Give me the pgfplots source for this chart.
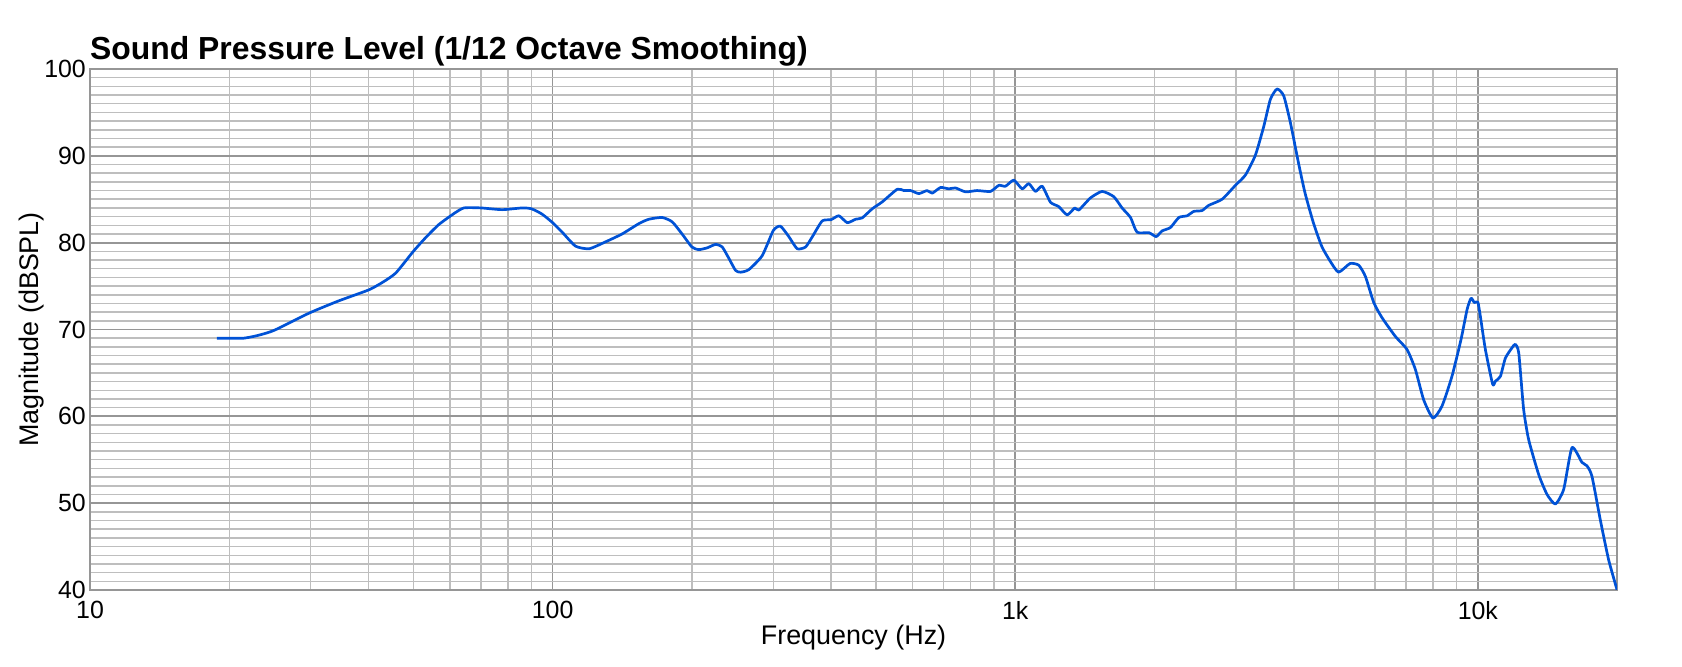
\documentclass[border=0pt]{standalone}
\usepackage{pgfplots}
\pgfplotsset{compat=1.18}
\usepackage{fontspec}
\setmainfont{Liberation Sans}
\definecolor{curve}{RGB}{0,82,214}
\definecolor{majgrid}{RGB}{150,150,150}
\definecolor{mingrid}{RGB}{190,190,190}
\begin{document}
\begin{tikzpicture}[x=1bp,y=1bp]
\path[use as bounding box] (0,0) rectangle (1682,667);
\begin{axis}[
  at={(90bp,77bp)}, anchor=south west,
  scale only axis, width=1527bp, height=521bp,
  xmode=log, xmin=10, xmax=20000, ymin=40, ymax=100,
  xtick={10,100,1000,10000}, xticklabels={10,100,1k,10k},
  minor xtick={20,30,40,50,60,70,80,90,200,300,400,500,600,700,800,900,2000,3000,4000,5000,6000,7000,8000,9000},
  ytick={40,50,60,70,80,90,100},
  minor ytick={41,42,43,44,45,46,47,48,49,51,52,53,54,55,56,57,58,59,61,62,63,64,65,66,67,68,69,71,72,73,74,75,76,77,78,79,81,82,83,84,85,86,87,88,89,91,92,93,94,95,96,97,98,99},
  grid=both,
  major grid style={majgrid, line width=1.7bp},
  minor grid style={mingrid, line width=1.5bp},
  axis line style={majgrid, line width=2.4bp},
  major tick length=0pt, minor tick length=0pt,
  tick label style={font=\fontsize{25}{30}\selectfont, inner sep=0pt},
  xticklabel style={yshift=-11bp},
  yticklabel style={xshift=-4bp},
  /pgf/number format/assume math mode=true,
  xlabel={Frequency (Hz)}, ylabel={Magnitude (dBSPL)},
  label style={font=\fontsize{27}{32}\selectfont},
  xlabel style={yshift=-2bp},
  ylabel style={yshift=-3bp},
]
\addplot[curve, line width=2.7bp, line join=round, smooth, tension=0.35] coordinates {
(18.8,69.0) (20,69.0) (21.5,69.0) (23,69.3) (25,69.9) (29.8,71.9) (34.5,73.3) (40,74.55)
(42.8,75.4) (45.8,76.5) (50,79.0) (53.2,80.6) (56.8,82.1) (61.0,83.3) (64.3,84.0) (70,84.0)
(77.8,83.8) (86,84.0) (90,83.9) (94.8,83.3) (100,82.3) (104.9,81.2) (112.1,79.6) (120,79.3)
(130.2,80.1) (141.3,81.0) (153.7,82.2) (161.5,82.7) (172.5,82.9) (181.3,82.4) (190.5,81.0)
(200,79.5) (207,79.2) (215.8,79.4) (225,79.8) (232.6,79.5) (240.4,78.2) (248.6,76.8) (255,76.6)
(265.6,76.9) (283.8,78.5) (300,81.4) (310.8,81.9) (324,80.7) (337.8,79.3) (352.2,79.5)
(364,80.65) (382.6,82.5) (400,82.65) (415.7,83.1) (433.5,82.3) (451.9,82.7) (466.8,82.85)
(490.8,83.9) (515.9,84.7) (555.9,86.15) (574.6,86.0) (594.3,86.0) (619,85.65) (645,86.0)
(661.5,85.7) (689.5,86.35) (718.6,86.2) (743,86.3) (780.8,85.85) (827,86.0) (884,85.9)
(921.6,86.6) (952.6,86.5) (993,87.2) (1035,86.2) (1070,86.8) (1106,85.9) (1144,86.5)
(1192,84.65) (1242,84.15) (1295,83.2) (1345,84.0) (1372,83.75) (1454,85.15) (1541,85.9)
(1633,85.3) (1702,84.0) (1775,82.9) (1834,81.2) (1945,81.15) (2017,80.7) (2077,81.35)
(2166,81.75) (2258,82.9) (2353,83.1) (2432,83.6) (2535,83.7) (2621,84.3) (2800,85.0)
(2992,86.6) (3146,87.8) (3306,90.1) (3446,93.4) (3561,96.5) (3681,97.7) (3806,96.9)
(3935,93.8) (4102,89.0) (4232,85.7) (4410,82.3) (4596,79.6) (4791,77.9) (5000,76.6)
(5293,77.6) (5528,77.4) (5715,76.1) (5957,73.1) (6209,71.35) (6634,69.2) (7030,67.7)
(7328,65.4) (7638,61.9) (8000,59.8) (8369,61.2) (8790,64.6) (9197,68.85) (9478,72.3)
(9667,73.6) (9829,73.1) (10000,73.15) (10127,71.5) (10382,67.7) (10765,63.7) (10915,64.05)
(11187,64.6) (11468,66.7) (11855,67.9) (12050,68.3) (12258,67.3) (12560,60.8) (12880,57.3)
(13537,53.3) (14114,51.0) (14713,49.9) (15333,51.6) (15979,56.4) (16790,54.7) (17215,54.3)
(17648,53.1) (18396,48.1) (19173,43.5) (20000,40.0)
};
\end{axis}
\node[anchor=base west, inner sep=0pt, font=\bfseries\fontsize{32}{38}\selectfont] at ([yshift=9bp]current axis.north west) {Sound Pressure Level (1/12 Octave Smoothing)};
\end{tikzpicture}
\end{document}
